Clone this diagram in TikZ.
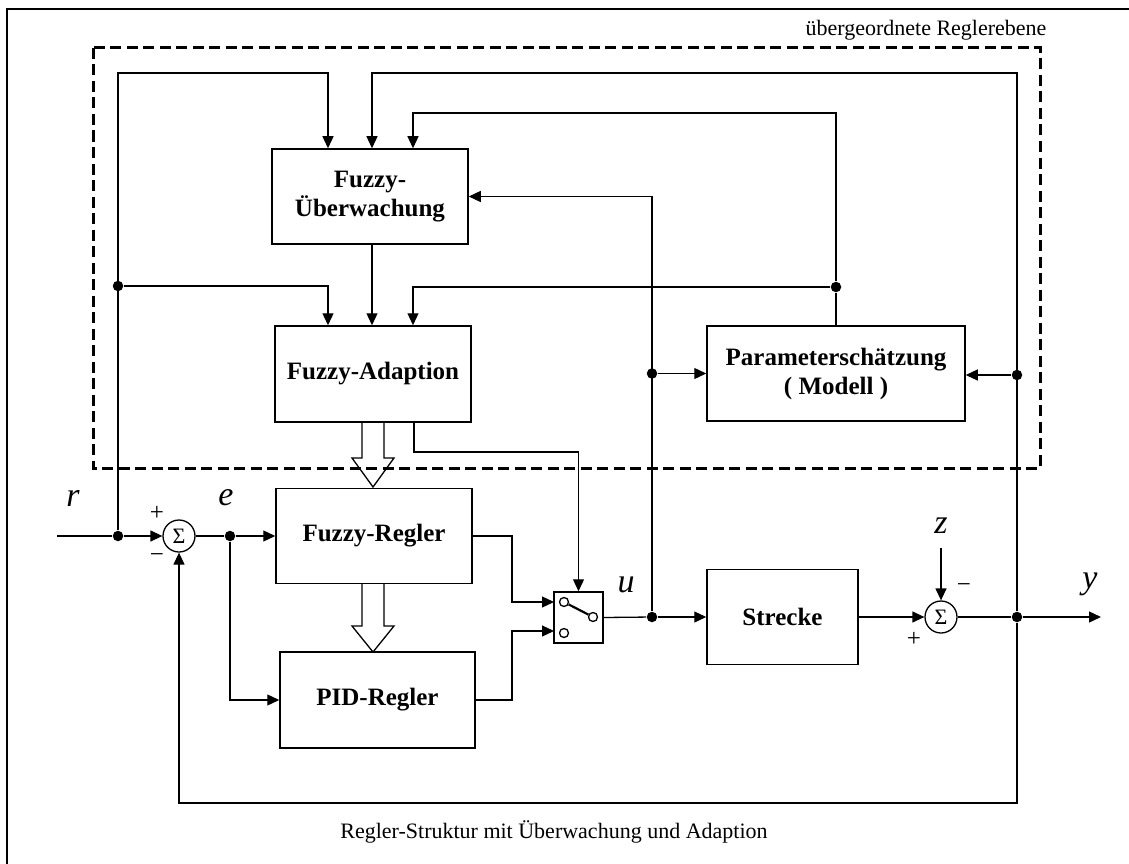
\documentclass[tikz,border=0pt]{standalone}
\usepackage{fontspec}
\setmainfont{Liberation Serif}
\usetikzlibrary{arrows.meta,calc}

\begin{document}
\begin{tikzpicture}[x=1pt,y=-1pt,
  line width=1.3pt,
  sig/.style={-{Triangle[length=12pt,width=11pt]}},
  blk/.style={draw, line width=1.5pt, inner sep=0pt, align=center,
    font=\fontsize{25}{29}\selectfont\bfseries},
  dot/.style={circle, fill, inner sep=0pt, minimum size=10.5pt},
  sumc/.style={circle, draw, line width=1.3pt, inner sep=0pt, minimum size=32pt,
    font=\fontsize{22}{22}\selectfont},
  lbl/.style={font=\fontsize{34}{34}\selectfont\itshape},
  sgn/.style={font=\fontsize{25}{25}\selectfont},
  txt/.style={font=\fontsize{22}{22}\selectfont},
  pin/.style={circle, draw, line width=1.3pt, inner sep=0pt, minimum size=9pt},
]
\useasboundingbox (0,0) rectangle (1129,864);

% outer frame
\draw[line width=2.5pt] (7,864) -- (7,9) -- (1129,9);

% blocks
\node[blk, minimum width=196pt, minimum height=95pt] (ueb) at (370,196.5) {Fuzzy-\\Überwachung};
\node[blk, minimum width=196pt, minimum height=96pt] (adp) at (373,374) {Fuzzy-Adaption};
\node[blk, minimum width=196pt, minimum height=95pt] (frg) at (374,536) {Fuzzy-Regler};
\node[blk, minimum width=195pt, minimum height=96pt] (pid) at (377.5,700) {PID-Regler};
\node[blk, minimum width=151pt, minimum height=95pt] (str) at (782.5,617) {Strecke};
\node[blk, minimum width=258pt, minimum height=95pt] (par) at (836,373.5) {Parameterschätzung\\( Modell )};

% summing junctions
\node[sumc] (s1) at (179,536) {Σ};
\node[sumc] (s2) at (941,617) {Σ};

% switch
\node[draw, line width=1.5pt, minimum width=49pt, minimum height=51pt, inner sep=0pt] (sw) at (578.5,617.5) {};
\node[pin] (p1) at (564,602) {};
\node[pin] (p2) at (593,617) {};
\node[pin] (p3) at (564,633) {};
\draw[line width=2.2pt] (p1) -- (p2);
\coordinate (swA) at (554,602);
\coordinate (swB) at (554,631);

% junction points
\node[dot] (j1) at (118,536) {};
\node[dot] (j2) at (118,286) {};
\node[dot] (jE) at (230,536) {};
\node[dot] (ju) at (652,617) {};
\node[dot] (ju2) at (652,373.5) {};
\node[dot] (jy) at (1017,617) {};
\node[dot] (jy2) at (1017,375) {};
\node[dot] (jp) at (836,287) {};

% free ends and column positions
\coordinate (rin) at (57,536);
\coordinate (yout) at (1101,617);
\coordinate (zin) at (941,548);
\coordinate (xA) at (328,0);
\coordinate (xB) at (372,0);
\coordinate (xC) at (413,0);
\coordinate (xD) at (414,0);

% main loop
\draw (rin) -- (j1);
\draw[sig] (j1) -- (s1);
\draw (s1) -- (jE);
\draw[sig] (jE) -- (frg.west);
\draw[sig] (jE) |- (pid.west);
\draw[sig] (frg.east) -- (512,536) |- (swA);
\draw[sig] (pid.east) -- (512,700) |- (swB);
\draw (sw.east) -- (ju);
\draw[sig] (ju) -- (str.west);
\draw[sig] (str.east) -- (s2);
\draw (s2) -- (jy);
\draw[sig] (jy) -- (yout);
\draw[sig] (zin) -- (s2);
\draw[sig] (jy) -- (1017,803) -| (s1);

% supervision and adaption level
\draw[sig] (j1) -- (118,73) -| (xA |- ueb.north);
\draw[sig] (j2) -| (xA |- adp.north);
\draw[sig] (xB |- ueb.south) -- (xB |- adp.north);
\draw[sig] (jy) -- (1017,73) -| (xB |- ueb.north);
\draw[sig] (par.north) -- (jp) -- (836,113) -| (xC |- ueb.north);
\draw[sig] (jp) -| (xC |- adp.north);
\draw[sig] (ju) |- (ueb.east);
\draw[sig] (ju2) -- (ju2 -| par.west);
\draw[sig] (jy2) -- (jy2 -| par.east);
\draw[sig] (xD |- adp.south) -- (414,452) -| (sw.north);

% hollow parameter arrows
\draw[line width=1.3pt, line join=miter]
  (362,422) -- (362,458) -- (352,458) -- (373,487) -- (394,458) -- (384,458) -- (384,422);
\draw[line width=1.3pt, line join=miter]
  (362,583.5) -- (362,626) -- (352,626) -- (373,652) -- (394,626) -- (384,626) -- (384,583.5);

% upper control level
\draw[line width=3pt, dash pattern=on 11pt off 5.5pt] (93,48) rectangle (1040,468);
\node[txt] (lvl) at (926,30) {übergeordnete Reglerebene};

% signal labels
\node[lbl] (lr) at (73,498) {r};
\node[lbl] (le) at (226,498) {e};
\node[lbl] (lu) at (626,585) {u};
\node[lbl] (ly) at (1090,584) {y};
\node[lbl] (lz) at (941,526) {z};
\node[sgn] (s1p) at (157,513) {+};
\node[sgn] (s1m) at (157,558) {−};
\node[sgn] (s2p) at (914,639) {+};
\node[sgn] (s2m) at (964,588) {−};

% caption
\node[txt] (cap) at (554,832) {Regler-Struktur mit Überwachung und Adaption};
\end{tikzpicture}
\end{document}
